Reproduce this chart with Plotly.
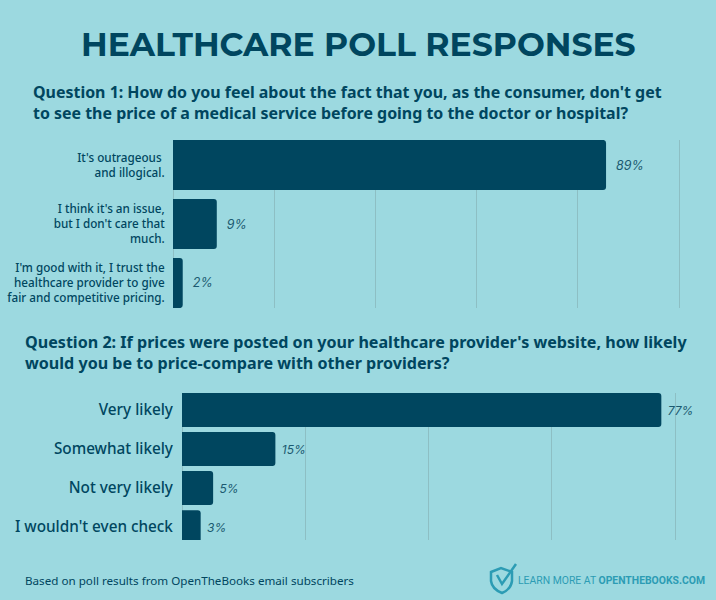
import plotly.graph_objects as go

q1_labels = ["It's outrageous <br>and illogical.", "I think it's an issue,<br>but I don't care that<br>much.",
             "I'm good with it, I trust the<br>healthcare provider to give<br>fair and competitive pricing."]
q1_values = [89, 9, 2]
q2_labels = ["Very likely", "Somewhat likely", "Not very likely", "I wouldn't even check"]
q2_values = [77, 15, 5, 3]
q1_ticks = [0, 20.8, 41.6, 62.4, 83.2, 104]
q2_ticks = [0, 19.8, 39.6, 59.4, 79.2]

BG = "#9CD9E0"
DARK = "#00465F"
GRID = "#8DBFC4"
TEAL = "#2C9CB4"
W, H = 716, 600


def px(x): return x / W
def py(y): return 1 - y / H


fig = go.Figure()
fig.add_trace(go.Bar(y=q1_labels, x=q1_values, orientation="h", xaxis="x", yaxis="y",
                     marker=dict(color=DARK, line=dict(width=0)),
                     text=[f"&nbsp;&nbsp;<i>{v}%</i>" for v in q1_values], textposition="outside",
                     textfont=dict(family="Inter", size=12.5, color="#1B5A70"),
                     cliponaxis=False, constraintext="none", width=0.85))
fig.add_trace(go.Bar(y=q2_labels, x=q2_values, orientation="h", xaxis="x2", yaxis="y2",
                     marker=dict(color=DARK, line=dict(width=0)),
                     text=[f"&nbsp;<i>{v}%</i>" for v in q2_values], textposition="outside",
                     textfont=dict(family="Inter", size=12, color="#1B5A70"),
                     cliponaxis=False, constraintext="none", width=0.87))


def xax(domain, rng, ticks, anchor):
    return dict(domain=domain, range=rng, tickmode="array", tickvals=ticks, showticklabels=False,
                showgrid=True, gridcolor=GRID, gridwidth=1, zeroline=True, zerolinecolor=GRID,
                zerolinewidth=1, showline=False, ticks="", anchor=anchor, fixedrange=True)


def yax(domain, rng, size, standoff, anchor):
    return dict(domain=domain, range=rng, type="category", showgrid=False, zeroline=False, showline=False,
                ticks="outside", ticklen=standoff, tickcolor="rgba(0,0,0,0)", tickwidth=0,
                tickfont=dict(family="Noto Sans", size=size, color=DARK, weight=500), anchor=anchor,
                fixedrange=True)


texts = [
    ("HEALTHCARE POLL RESPONSES", 358.5, 44, 33, "center", "Montserrat, Inter", True, DARK),
    ("Question 1: How do you feel about the fact that you, as the consumer, don't get<br>"
     "to see the price of a medical service before going to the doctor or hospital?", 31, 102, 15.95, "left", "Noto Sans", True, DARK),
    ("Question 2: If prices were posted on your healthcare provider's website, how likely<br>"
     "would you be to price-compare with other providers?", 23, 352.5, 16.1, "left", "Noto Sans", True, DARK),
    ("Based on poll results from OpenTheBooks email subscribers", 23, 580, 11.65, "left", "Noto Sans", False, DARK),
    ("LEARN MORE AT <b>OPENTHEBOOKS.COM</b>", 707, 580, 10.4, "right", "Roboto", False, TEAL),
]
annotations = []
for t, x, y, s, al, fam, bold, c in texts:
    annotations.append(dict(text=f"<b>{t}</b>" if bold else t, x=px(x), y=py(y), xref="paper", yref="paper",
                            xanchor=al, yanchor="middle", align=al, showarrow=False,
                            font=dict(family=fam, size=s, color=c)))

shield = ("M {} {} L {} {} L {} {} L {} {} Q {} {} {} {} Q {} {} {} {} Z").format(
    px(491), py(572), px(501), py(568), px(512), py(572), px(512), py(581),
    px(511), py(589), px(502), py(593), px(492), py(589), px(491), py(581))
check = "M {} {} L {} {} L {} {}".format(px(497), py(575), px(502), py(584), px(516), py(564))

fig.update_layout(
    width=W, height=H, autosize=False, margin=dict(l=0, r=0, t=0, b=0),
    paper_bgcolor=BG, plot_bgcolor=BG, showlegend=False, barcornerradius=3,
    xaxis=xax([px(173), px(684)], [0, 105.02], q1_ticks, "y"),
    yaxis=yax([py(308), py(140)], [2.424, -0.424], 11.7, 5, "x"),
    xaxis2=xax([px(182), px(680)], [0, 80], q2_ticks, "y2"),
    yaxis2=yax([py(540), py(393)], [3.33, -0.436], 15.3, 5, "x2"),
    annotations=annotations,
    shapes=[
        dict(type="path", path=shield, xref="paper", yref="paper", line=dict(color=TEAL, width=2.5)),
        dict(type="path", path=check, xref="paper", yref="paper", line=dict(color=TEAL, width=2.5)),
    ],
)
fig.write_html("out.html", post_script="document.body.style.margin='0';", config={"displayModeBar": False})
